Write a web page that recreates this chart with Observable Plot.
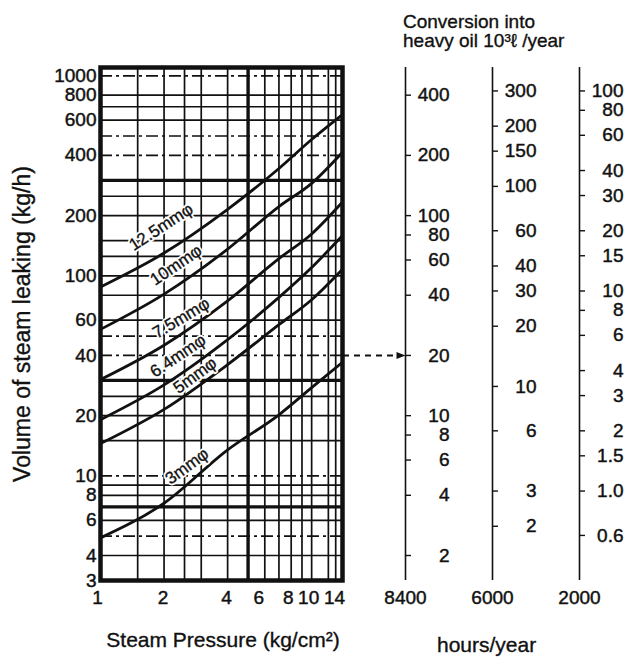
<!DOCTYPE html>
<html>
<head>
<meta charset="utf-8">
<script src="https://cdn.jsdelivr.net/npm/d3@7"></script>
<script src="https://cdn.jsdelivr.net/npm/@observablehq/plot@0.6"></script>
<style>
  html, body { margin: 0; padding: 0; background: #fff; }
  #wrap { position: relative; width: 639px; height: 660px; background: #fff; overflow: hidden;
          font-family: 'Liberation Sans', Arial, Helvetica, sans-serif; color: #111; }
  .abs { position: absolute; line-height: 1; white-space: nowrap; -webkit-text-stroke: 0.35px #111; }
</style>
</head>
<body>
<div id="wrap">
  <div id="p1" class="abs" style="left:0;top:0;-webkit-text-stroke:0"></div>
  <div id="p2" class="abs" style="left:342px;top:0;-webkit-text-stroke:0"></div>
  <div class="abs" style="left:403px;top:12px;font-size:19px">Conversion into</div>
  <div class="abs" style="left:403px;top:31px;font-size:19px">heavy oil 10³ℓ /year</div>
  <div class="abs" style="left:437px;top:634px;font-size:21px">hours/year</div>
  <div class="abs" style="left:223px;top:629px;font-size:21px;transform:translateX(-50%)">Steam Pressure (kg/cm²)</div>
  <div class="abs" style="left:22px;top:324px;font-size:23px;transform:translate(-50%,-50%) rotate(-90deg)">Volume of steam leaking (kg/h)</div>
</div>
<script>
// ---------- data ----------
const pressure = [1, 2, 4, 7, 10, 14];                 // kg/cm² (gauge)
const orifices = ["12.5mmφ", "10mmφ", "7.5mmφ", "6.4mmφ", "5mmφ", "3mmφ"];
const leak125 = [88, 130, 215, 344, 480, 640];          // kg/h
const leak10  = [54, 81, 136, 222, 290, 415];
const leak75  = [30.3, 45, 75, 122, 162, 234];
const leak64  = [19.1, 28.5, 48, 78, 110, 159];
const leak5   = [14.5, 21.5, 36, 57, 76, 108];
const leak3   = [4.9, 7.3, 13.5, 20.2, 27.6, 37];
const leakSeries = [leak125, leak10, leak75, leak64, leak5, leak3];

const xTicks = [1, 2, 4, 6, 8, 10, 14];
const yTicks = [3, 4, 6, 8, 10, 20, 40, 60, 100, 200, 400, 600, 800, 1000];

// chart grid (values)
const xGrid = [1.5, 2, 2.5, 3, 4, 6, 7, 8, 9, 10, 12, 13];
const xGridBold = [5];
const yGrid = [4, 6, 8, 9, 15, 20, 25, 60, 80, 100, 125, 150, 200, 250, 600, 700, 800];
const yGridDashDot = [5, 10, 40, 50, 400, 500, 1000];
const yGridBold = [7, 30, 300];

// conversion scales (hours/year, heavy-oil tick labels in 10³ ℓ/year)
const hours = [8400, 6000, 2000];
const oil8400 = ["400", "200", "100", "80", "60", "40", "20", "10", "8", "6", "4", "2"];
const oil6000 = ["300", "200", "150", "100", "60", "40", "30", "20", "10", "6", "3", "2"];
const oil2000 = ["100", "80", "60", "40", "30", "20", "15", "10", "8", "6", "4", "3", "2", "1.5", "1.0", "0.6"];
const oilLabels = [oil8400, oil6000, oil2000];
// worked example shown by the dashed arrow: 40 kg/h  ->  20 ×10³ ℓ/year at 8400 h/year
const exampleSteam = 40, exampleOil = 20, exampleHours = 8400;

// ---------- derived tables ----------
const rows = orifices.flatMap((s, i) => pressure.map((p, j) => ({size: s, p, v: leakSeries[i][j]})));
const scaleRows = hours.flatMap((h, i) => oilLabels[i].map(label => ({
  h, label, steam: (+label) * (exampleSteam / exampleOil) * (exampleHours / h)
})));

// ---------- styles ----------
const ink = "#111";
const font = "'Liberation Sans', Arial, Helvetica, sans-serif";
const heavy = {fill: ink, stroke: ink, strokeWidth: 0.45};
const labelStyle = [
  {dx: -3, dy: -26, rotate: -33},
  {dx: 12, dy: -29, rotate: -34},
  {dx: 17, dy: -27, rotate: -31},
  {dx: 14, dy: -29, rotate: -34},
  {dx: 31, dy: -34, rotate: -36},
  {dx: 23, dy: -37, rotate: -36}
];
const xTickDx = [-3, -1, -1, -6, -3, -3, -8];
const H = 660, MT = 67, MB = 80;
const yScale = {type: "log", domain: [3, 1100], axis: null};

const p1 = Plot.plot({
  width: 360, height: H,
  marginLeft: 100, marginRight: 18, marginTop: MT, marginBottom: MB,
  style: {fontFamily: font, fontSize: "19px", color: ink, background: "transparent"},
  x: {type: "log", domain: [1, 14], axis: null},
  y: yScale,
  marks: [
    Plot.ruleX(xGrid, {stroke: ink, strokeWidth: 1.7}),
    Plot.ruleX(xGridBold, {stroke: ink, strokeWidth: 3.4}),
    Plot.ruleY(yGrid, {stroke: ink, strokeWidth: 1.7}),
    Plot.ruleY(yGridDashDot, {stroke: ink, strokeWidth: 1.7, strokeDasharray: "12,4,3,4"}),
    Plot.ruleY(yGridBold, {stroke: ink, strokeWidth: 3.2}),
    Plot.line(rows, {x: "p", y: "v", z: "size", curve: "monotone-x", stroke: ink, strokeWidth: 2.8}),
    ...orifices.flatMap((s, i) => {
      const at = rows.filter(r => r.size === s && r.p === 2);
      const pos = {x: "p", y: "v", text: "size", fontSize: 17,
        dx: labelStyle[i].dx, dy: labelStyle[i].dy, rotate: labelStyle[i].rotate};
      return [
        Plot.text(at, {...pos, fill: "white", stroke: "white", strokeWidth: 4}),
        Plot.text(at, {...pos, ...heavy, strokeWidth: 0.35})
      ];
    }),
    Plot.frame({stroke: ink, strokeWidth: 4.5}),
    // tick labels
    Plot.text(yTicks, {y: d => d, text: d => String(d), frameAnchor: "left", textAnchor: "end", dx: -4, fontSize: 19, ...heavy}),
    ...xTicks.map((t, i) => Plot.text([t], {x: d => d, text: d => String(d), frameAnchor: "bottom",
      lineAnchor: "middle", dy: 17, dx: xTickDx[i], fontSize: 19, ...heavy}))
  ]
});
document.getElementById("p1").append(p1);

const arrowHead = {draw(ctx) { ctx.moveTo(0, 0); ctx.lineTo(-9, -3.5); ctx.lineTo(-9, 3.5); ctx.closePath(); }};

const p2 = Plot.plot({
  width: 297, height: H,
  marginLeft: 0, marginRight: 0, marginTop: MT, marginBottom: MB,
  style: {fontFamily: font, fontSize: "19px", color: ink, background: "transparent"},
  x: {type: "point", domain: hours, range: [63, 237], padding: 0, axis: null},
  y: yScale,
  marks: [
    Plot.ruleX(hours, {x: d => d, stroke: ink, strokeWidth: 1.6}),
    Plot.ruleY(scaleRows, {x1: "h", x2: "h", y: "steam", insetRight: -6, stroke: ink, strokeWidth: 1.4}),
    Plot.text(scaleRows, {x: "h", y: "steam", text: "label", dx: 44, textAnchor: "end", fontSize: 19, ...heavy}),
    Plot.text(hours, {x: d => d, text: d => String(d), frameAnchor: "bottom", lineAnchor: "middle", dy: 17, fontSize: 19, ...heavy}),
    Plot.ruleY([exampleSteam], {y: d => d, x1: () => exampleHours, x2: () => exampleHours,
      insetLeft: -62, insetRight: 8, stroke: ink, strokeWidth: 2, strokeDasharray: "6,5"}),
    Plot.dot([exampleSteam], {x: () => exampleHours, y: d => d, symbol: arrowHead, r: 4, fill: ink, stroke: "none"})
  ]
});
document.getElementById("p2").append(p2);
</script>
</body>
</html>
